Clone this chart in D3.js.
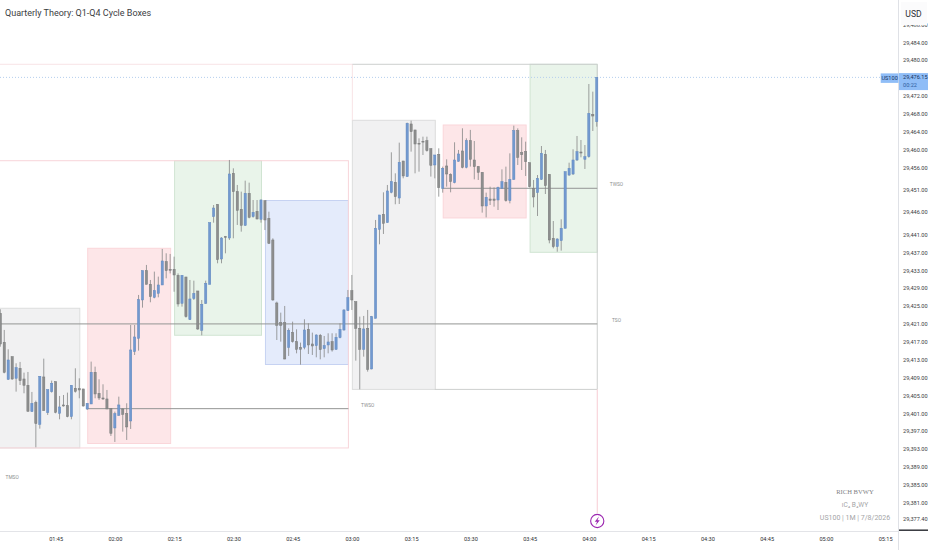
<!DOCTYPE html>
<html>
<head>
<meta charset="utf-8">
<script src="https://cdn.jsdelivr.net/npm/d3@7"></script>
<style>
html, body { margin: 0; padding: 0; background: #fff; overflow: hidden; }
svg { display: block; }
</style>
</head>
<body>
<div id="chart"></div>
<script>
// one candle per minute, first one at 01:31
const firstCandle = "01:31";

const opens = [
  29423.37,29416.89,29408.61,29413.68,29408.83,29411.07,29408.68,29407.27,29401.38,29403.46,
  29398.54,29409.13,29401.15,29405.85,29408.09,29401.00,29402.87,29402.72,29400.26,29406.60,
  29406.52,29406.45,29401.97,29403.09,29410.18,29405.48,29404.43,29404.21,29402.12,29397.72,
  29400.56,29401.97,29400.93,29399.29,29414.80,29417.78,29426.36,29432.92,29429.86,29426.95,
  29427.85,29429.71,29434.93,29433.22,29433.22,29431.87,29425.61,29431.50,29421.95,29426.65,
  29428.37,29419.57,29425.61,29429.86,29445.00,29447.75,29435.52,29440.52,29440.22,29454.69,
  29450.59,29446.64,29443.06,29450.22,29445.00,29446.19,29444.40,29448.58,29444.62,29439.78,
  29425.68,29421.28,29421.28,29415.77,29419.12,29417.03,29415.77,29415.77,29419.79,29416.51,
  29416.14,29418.45,29415.47,29416.29,29417.03,29415.32,29417.93,29419.64,29423.97,29428.44,
  29425.98,29420.02,29415.32,29420.02,29410.92,29422.25,29442.16,29445.52,29443.66,29450.44,
  29452.68,29449.17,29457.45,29453.95,29465.73,29464.39,29461.40,29461.85,29462.00,29460.21,
  29456.56,29458.94,29451.34,29456.33,29454.47,29452.60,29457.38,29459.69,29456.03,29462.00,
  29457.67,29456.18,29454.91,29447.38,29448.94,29448.94,29448.72,29451.33,29452.67,29448.57,
  29453.34,29464.23,29459.31,29459.53,29457.07,29451.33,29450.36,29453.34,29458.94,29454.46,
  29440.14,29438.28,29439.62,29442.38,29454.31,29454.54,29457.67,29459.46,29457.82,29458.41,
  29467.88,29466.24
];
const closes = [
  29416.51,29410.18,29412.93,29408.68,29411.22,29408.31,29407.27,29401.45,29403.24,29398.69,
  29409.28,29401.60,29406.30,29407.71,29401.23,29402.42,29402.64,29400.26,29407.27,29405.92,
  29406.22,29402.64,29403.24,29410.18,29405.33,29404.43,29404.21,29401.97,29396.53,29400.93,
  29402.87,29400.78,29397.95,29415.17,29418.08,29426.43,29432.92,29429.86,29427.10,29428.45,
  29429.71,29435.08,29432.92,29433.00,29431.95,29425.46,29431.87,29422.62,29426.58,29427.84,
  29419.87,29425.38,29430.08,29443.65,29446.93,29435.38,29440.22,29440.37,29454.54,29450.59,
  29446.41,29443.06,29450.22,29444.85,29445.97,29444.47,29448.72,29444.25,29439.03,29426.35,
  29420.69,29420.69,29413.15,29419.49,29417.03,29415.32,29415.32,29419.64,29416.29,29416.06,
  29418.52,29415.24,29416.14,29416.96,29415.17,29418.00,29419.79,29424.12,29426.88,29426.35,
  29420.02,29415.32,29419.87,29410.84,29422.63,29442.39,29445.37,29443.51,29450.74,29452.83,
  29449.47,29457.15,29454.10,29465.88,29464.01,29461.25,29461.25,29461.70,29459.76,29456.48,
  29458.79,29451.49,29455.81,29454.54,29452.83,29457.67,29459.02,29456.03,29462.00,29457.82,
  29456.18,29454.91,29447.38,29449.32,29448.65,29448.65,29451.55,29452.82,29448.57,29453.34,
  29464.23,29458.27,29458.86,29457.30,29451.70,29449.39,29453.57,29459.16,29451.93,29439.77,
  29438.28,29440.00,29442.38,29455.06,29455.80,29457.67,29459.53,29459.23,29458.41,29468.11,
  29467.51,29476.15
];
const highs = [
  29424.27,29419.65,29415.32,29413.68,29412.19,29412.49,29410.10,29410.25,29405.78,29403.84,
  29409.28,29413.23,29406.30,29408.31,29408.09,29404.88,29405.10,29405.63,29407.27,29411.07,
  29408.83,29406.45,29403.24,29412.56,29411.44,29408.61,29407.49,29406.22,29402.12,29401.38,
  29404.73,29402.12,29403.24,29420.76,29420.76,29427.48,29432.92,29434.19,29430.83,29432.70,
  29431.58,29437.77,29436.80,29436.65,29436.05,29432.30,29431.87,29431.50,29430.83,29430.68,
  29428.37,29426.35,29430.68,29443.65,29447.60,29447.75,29440.40,29440.67,29457.67,29455.81,
  29452.08,29450.59,29453.05,29452.60,29448.72,29448.72,29448.87,29448.58,29446.11,29440.15,
  29425.98,29423.52,29425.01,29420.01,29421.51,29419.79,29416.81,29422.03,29421.13,29419.05,
  29418.67,29418.75,29418.30,29418.90,29418.90,29418.90,29421.13,29424.27,29428.59,29431.95,
  29425.98,29422.63,29422.78,29424.12,29422.78,29444.25,29445.37,29450.44,29452.08,29459.39,
  29454.69,29461.55,29457.45,29466.03,29466.47,29464.39,29462.52,29462.89,29462.89,29460.21,
  29458.79,29460.28,29456.18,29457.82,29454.69,29461.63,29459.91,29464.76,29462.52,29464.40,
  29461.92,29456.33,29454.91,29450.36,29451.70,29451.55,29451.70,29455.58,29456.18,29459.16,
  29465.35,29464.75,29462.74,29461.77,29457.07,29453.20,29454.31,29460.80,29459.91,29454.46,
  29444.02,29440.14,29444.40,29455.06,29457.07,29460.06,29463.04,29462.14,29461.02,29474.67,
  29472.96,29476.15
];
const lows = [
  29415.90,29409.95,29408.46,29408.46,29405.85,29407.34,29405.48,29401.38,29401.38,29393.40,
  29397.57,29401.60,29400.63,29405.63,29401.00,29399.66,29402.50,29400.11,29399.66,29405.63,
  29404.36,29402.50,29401.75,29403.09,29404.36,29403.99,29403.99,29401.97,29395.93,29394.59,
  29400.41,29396.90,29395.04,29397.50,29414.05,29415.02,29424.64,29429.86,29425.84,29426.73,
  29426.95,29429.71,29431.20,29432.30,29428.20,29424.86,29424.86,29422.40,29421.88,29426.35,
  29419.64,29418.45,29425.46,29429.86,29443.65,29434.56,29434.56,29436.79,29439.78,29440.15,
  29443.13,29441.64,29442.91,29444.62,29444.77,29444.40,29443.65,29442.00,29438.88,29426.20,
  29417.40,29417.03,29413.08,29413.83,29416.81,29414.42,29411.89,29415.32,29414.27,29414.05,
  29413.53,29413.08,29413.53,29414.42,29414.80,29415.17,29417.78,29419.49,29423.97,29424.12,
  29412.78,29406.37,29413.68,29410.32,29410.84,29422.25,29438.81,29441.12,29443.66,29450.22,
  29447.76,29447.83,29453.57,29453.95,29459.54,29454.69,29455.06,29458.79,29459.54,29453.95,
  29453.57,29449.47,29450.37,29451.71,29450.44,29452.45,29457.30,29455.81,29455.81,29456.20,
  29453.34,29453.20,29445.89,29444.84,29447.60,29447.23,29446.48,29451.18,29448.35,29447.97,
  29453.20,29456.55,29455.43,29454.09,29451.55,29447.08,29445.14,29453.20,29450.06,29439.03,
  29437.91,29437.16,29437.39,29442.38,29454.09,29454.31,29457.45,29458.27,29455.66,29458.19,
  29464.16,29465.13
];

// quarter boxes
const boxKinds  = ["grey","pink","green","blue","grey","pink","green"];
const boxStarts = ["01:29","01:53","02:15","02:38","03:00","03:23","03:45"];
const boxEnds   = ["01:51","02:14","02:37","02:59","03:21","03:44","04:02"];
const boxTops   = [29424.50,29437.92,29457.51,29448.61,29466.55,29465.50,29479.08];
const boxBottoms= [29393.25,29394.25,29418.46,29411.92,29406.35,29444.70,29437.02];

// session levels and their tags
const levelStarts = ["01:25","01:53","03:23"];
const levelEnds   = ["04:02","02:59","04:02"];
const levelPrices = [29421.00,29402.04,29451.34];
const tagTexts  = ["TMSO","TWSO","TWSO","TSO"];
const tagTimes  = ["01:34","03:04","04:07","04:07"];
const tagPrices = [29386.53,29402.75,29452.08,29421.65];

const priceTicks = [29488,29484,29480,29472,29468,29464,29460,29456,29451,29446,29441,29437,29433,29429,
  29425,29421,29417,29413,29409,29405,29401,29397,29393,29389,29385,29381,29377.40];
const timeTicks = ["01:45","02:00","02:15","02:30","02:45","03:00","03:15","03:30","03:45","04:00",
  "04:15","04:30","04:45","05:00","05:15"];
const lastPrice = 29476.15;
const lowPrice = 29374.35;

const WIDTH = 932, HEIGHT = 550;
const plotW = 898, plotH = 531;

const parseTime = d3.timeParse("%H:%M");
const xScale = d3.scaleTime()
  .domain([parseTime("01:31"), parseTime("05:15")])
  .range([0.3, 885.1]);
const yScale = d3.scaleLinear()
  .domain([29484, 29377.4])
  .range([42.3, 518.8]);

const x = t => xScale(parseTime(t));
const candleTime = i => d3.timeMinute.offset(parseTime(firstCandle), i);

const boxColors = {
  grey:  { fill: "#f1f1f2", stroke: "#dcdddd" },
  pink:  { fill: "#fde6e8", stroke: "#fad6da" },
  green: { fill: "#e9f4ea", stroke: "#d0e4d2" },
  blue:  { fill: "#e4ebfb", stroke: "#c6d2f2" }
};
const upColor = { fill: "#7299d0", stroke: "#6289c0" };
const downColor = { fill: "#8d8e8e", stroke: "#797a7a" };
const wickColor = "#858786";
const cycleGrey = "#cdcfce";
const cyclePink = "#f8d5da";

const svg = d3.select("#chart").append("svg")
  .attr("width", WIDTH)
  .attr("height", HEIGHT)
  .style("font-family", "Roboto, sans-serif");

const plot = svg.append("g");

// quarter boxes
plot.append("g").selectAll("rect")
  .data(boxKinds)
  .join("rect")
  .attr("x", (d, i) => x(boxStarts[i]) + 0.5)
  .attr("y", (d, i) => yScale(boxTops[i]))
  .attr("width", (d, i) => x(boxEnds[i]) - x(boxStarts[i]))
  .attr("height", (d, i) => yScale(boxBottoms[i]) - yScale(boxTops[i]))
  .attr("fill", d => boxColors[d].fill)
  .attr("stroke", d => boxColors[d].stroke)
  .attr("stroke-width", 1);

// larger cycle outlines
const cycles = plot.append("g").attr("fill", "none").attr("stroke-width", 1);
cycles.append("rect") // left pink range
  .attr("x", x("01:25"))
  .attr("y", yScale(29457.51))
  .attr("width", x("02:59") - x("01:25") + 0.5)
  .attr("height", yScale(29393.25) - yScale(29457.51))
  .attr("stroke", cyclePink);
cycles.append("path") // top pink line, stops where the next range begins
  .attr("d", d3.line()([
    [x("01:25"), yScale(29479.08)],
    [x("03:00") + 0.5, yScale(29479.08)],
    [x("03:00") + 0.5, yScale(29466.55)]
  ]))
  .attr("stroke", "#f8e3e6");
cycles.append("path") // grey range to the right
  .attr("d", d3.line()([
    [x("03:00") + 0.5, yScale(29479.08)],
    [x("04:02") + 0.5, yScale(29479.08)],
    [x("04:02") + 0.5, yScale(29406.35)],
    [x("03:21"), yScale(29406.35)]
  ]))
  .attr("stroke", cycleGrey);
cycles.append("line") // pink drop to the marker
  .attr("x1", x("04:02") + 0.5)
  .attr("x2", x("04:02") + 0.5)
  .attr("y1", yScale(29406.35))
  .attr("y2", yScale(29378.7))
  .attr("stroke", "#f7ccd3");

// session levels
plot.append("g").selectAll("line")
  .data(levelPrices)
  .join("line")
  .attr("x1", (d, i) => x(levelStarts[i]))
  .attr("x2", (d, i) => x(levelEnds[i]) + 0.5)
  .attr("y1", d => yScale(d))
  .attr("y2", d => yScale(d))
  .attr("stroke", "#949594")
  .attr("stroke-width", 1);

// last price line
plot.append("line")
  .attr("x1", 0)
  .attr("x2", 881)
  .attr("y1", yScale(lastPrice))
  .attr("y2", yScale(lastPrice))
  .attr("stroke", "#b4cfed")
  .attr("stroke-width", 1)
  .attr("stroke-dasharray", "1 2");

// candles
const candles = plot.append("g").selectAll("g")
  .data(opens)
  .join("g");

candles.append("line")
  .attr("x1", (d, i) => xScale(candleTime(i)))
  .attr("x2", (d, i) => xScale(candleTime(i)))
  .attr("y1", (d, i) => yScale(highs[i]))
  .attr("y2", (d, i) => yScale(lows[i]))
  .attr("stroke", wickColor)
  .attr("stroke-width", 0.8);

candles.append("rect")
  .attr("x", (d, i) => xScale(candleTime(i)) - 1.1)
  .attr("width", 2.2)
  .attr("y", (d, i) => yScale(Math.max(opens[i], closes[i])))
  .attr("height", (d, i) => Math.max(0.8, Math.abs(yScale(opens[i]) - yScale(closes[i]))))
  .attr("fill", (d, i) => closes[i] >= opens[i] ? upColor.fill : downColor.fill)
  .attr("stroke", (d, i) => closes[i] >= opens[i] ? upColor.stroke : downColor.stroke)
  .attr("stroke-width", 0.5);

// level tags
plot.append("g").selectAll("text")
  .data(tagTexts)
  .join("text")
  .attr("x", (d, i) => x(tagTimes[i]))
  .attr("y", (d, i) => yScale(tagPrices[i]))
  .attr("text-anchor", "middle")
  .attr("dominant-baseline", "middle")
  .attr("font-size", 4.8)
  .attr("fill", "#8e8f8f")
  .text(d => d);

// marker at the end of the drop
const markerX = x("04:02") + 0.5, markerY = yScale(29377.4) + 2.2;
const marker = plot.append("g").attr("transform", `translate(${markerX}, ${markerY})`);
marker.append("circle")
  .attr("r", 6.6)
  .attr("fill", "#fff")
  .attr("stroke", "#9c27b0")
  .attr("stroke-width", 1.1);
marker.append("path")
  .attr("d", "M1.7,-4.4 L-2.5,0.7 L-0.2,0.7 L-1.7,4.4 L2.5,-0.8 L0.2,-0.8 Z")
  .attr("fill", "#9c27b0");

// watermark
const watermark = svg.append("g").attr("text-anchor", "middle").attr("fill", "#808183");
watermark.append("text")
  .attr("x", 855).attr("y", 493.5)
  .attr("font-family", "'Liberation Serif', serif")
  .attr("font-size", 6.6)
  .text("RICH BVWY");
watermark.append("text")
  .attr("x", 855).attr("y", 506.5)
  .attr("font-size", 6.6)
  .attr("fill", "#a4a5a7")
  .text("ıC₄ B₄WY");
watermark.append("text")
  .attr("x", 855).attr("y", 519.5)
  .attr("font-size", 7)
  .attr("fill", "#a4a5a7")
  .text("US100 | 1M | 7/8/2026");

// title
svg.append("text")
  .attr("x", 5).attr("y", 16)
  .attr("font-size", 9)
  .attr("fill", "#3b3d42")
  .text("Quarterly Theory: Q1-Q4 Cycle Boxes");

// time axis
const timeAxis = d3.axisBottom(xScale)
  .tickValues(timeTicks.map(parseTime))
  .tickFormat(d3.timeFormat("%H:%M"))
  .tickSize(0)
  .tickPadding(6.5);
const timeG = svg.append("g")
  .attr("transform", `translate(0, ${plotH})`)
  .call(timeAxis);
timeG.select(".domain").attr("stroke", "#e3e4e8").attr("d", `M0,0.5H${plotW}`);
timeG.selectAll("text")
  .attr("font-family", "Roboto, sans-serif")
  .attr("font-size", 5.6)
  .attr("fill", "#2f3136");

// price axis, the topmost label runs under the unit box
svg.append("defs").append("clipPath").attr("id", "axisClip")
  .append("rect").attr("x", plotW).attr("y", 0).attr("width", WIDTH - plotW).attr("height", plotH);

const priceAxis = d3.axisRight(yScale)
  .tickValues(priceTicks)
  .tickFormat(d3.format(",.2f"))
  .tickSize(0)
  .tickPadding(5);
const priceG = svg.append("g")
  .attr("transform", `translate(${plotW}, 0)`)
  .call(priceAxis);
priceG.select(".domain").remove();
priceG.selectAll("text")
  .attr("font-family", "Roboto, sans-serif")
  .attr("font-size", 5.6)
  .attr("fill", "#3b3d42");

svg.append("line")
  .attr("x1", plotW + 0.5).attr("x2", plotW + 0.5)
  .attr("y1", 0).attr("y2", HEIGHT)
  .attr("stroke", "#dfe1e6");

// unit box
svg.append("rect")
  .attr("x", 901).attr("y", 2).attr("width", 26).attr("height", 23)
  .attr("fill", "#fbfbfc");
svg.append("text")
  .attr("x", 913.5).attr("y", 16.5)
  .attr("text-anchor", "middle")
  .attr("font-size", 8.6)
  .attr("fill", "#2f3136")
  .text("USD");

// low price tag, cut off by the time axis
const lowG = svg.append("g").attr("clip-path", "url(#axisClip)");
lowG.append("rect")
  .attr("x", plotW + 1).attr("width", 29)
  .attr("y", yScale(lowPrice) - 3).attr("height", 12)
  .attr("fill", "#3c3e44");
lowG.append("text")
  .attr("x", plotW + 5).attr("y", yScale(lowPrice) + 2.5)
  .attr("font-size", 5.6)
  .attr("fill", "#e8e8ea")
  .text(d3.format(",.2f")(lowPrice));

// last price tags
const lastY = yScale(lastPrice);
svg.append("rect")
  .attr("x", 880.7).attr("y", lastY - 4).attr("width", 17.8).attr("height", 9.5)
  .attr("fill", "#8fbdf7");
svg.append("text")
  .attr("x", 889.6).attr("y", lastY + 3)
  .attr("text-anchor", "middle")
  .attr("font-size", 5.6)
  .attr("fill", "#17345f")
  .text("US100");
svg.append("rect")
  .attr("x", plotW + 1).attr("y", lastY - 4.3).attr("width", 29).attr("height", 17)
  .attr("fill", "#8fbdf7");
svg.append("text")
  .attr("x", plotW + 5).attr("y", lastY + 2)
  .attr("font-size", 5.6)
  .attr("fill", "#17345f")
  .text(d3.format(",.2f")(lastPrice));
svg.append("text")
  .attr("x", plotW + 5).attr("y", lastY + 10)
  .attr("font-size", 5.6)
  .attr("fill", "#2f5e9e")
  .text("00:22");
</script>
</body>
</html>
